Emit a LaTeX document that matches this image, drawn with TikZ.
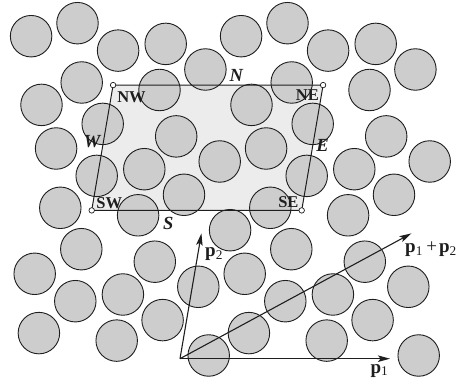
\documentclass[tikz,border=0pt]{standalone}
\usepackage{fontspec}
\setmainfont{Liberation Serif}
\usetikzlibrary{arrows.meta, calc}
\definecolor{grain}{HTML}{CDCDCD}
\definecolor{cellbg}{HTML}{ECECEC}
\definecolor{ink}{HTML}{1E1E1E}

\begin{document}
\begin{tikzpicture}[
  x=1pt, y=1pt,
  >={Stealth[length=12pt, width=6.5pt, inset=2.5pt]},
  % one hard disc of the periodic packing
  disc/.style      = {circle, draw=ink, fill=grain, line width=0.9pt,
                      minimum size=41.5pt, inner sep=0pt},
  celledge/.style  = {draw=ink, line width=1pt},
  vertex/.style    = {circle, draw=ink, fill=white, line width=0.7pt,
                      minimum size=5.5pt, inner sep=0pt},
  cornerlbl/.style = {font=\fontsize{16.5}{19}\selectfont\bfseries, text=ink,
                      inner sep=0pt},
  sidelbl/.style   = {font=\fontsize{18.5}{21}\selectfont\bfseries\itshape,
                      text=ink, inner sep=0pt},
  vec/.style       = {->, draw=ink, line width=1.1pt},
  veclbl/.style    = {font=\fontsize{19}{22}\selectfont, text=ink, inner sep=0pt},
]
\useasboundingbox (0,0) rectangle (464,385);

% ============================ unit cell spanned by p1 and p2 ================
\coordinate (sw) at (91.7,174.6);
\coordinate (se) at ($(sw)+(210,0)$);
\coordinate (nw) at ($(sw)+(21.4,125.3)$);
\coordinate (ne) at ($(nw)+(210,0)$);
\fill[cellbg] (sw) -- (se) -- (ne) -- (nw) -- cycle;

% ============================ discs: offset in cell / lattice shifts shown ==
\begin{scope}[shift={(sw)}]
\foreach \bx/\by/\shifts [count=\k] in {
    128.0/48.9/{-1/1,0/1,0/0,1/0,0/-1,1/-1},
    174.4/61.9/{-1/1,0/1,-1/0,0/0,-1/-1,0/-1},
    5.0/34.5/{0/1,1/1,0/0,1/0,0/-1,1/-1},
    52.6/41.2/{0/1,1/1,0/0,1/0,0/-1,1/-1},
    92.3/15.6/{0/1,1/1,0/0,1/0,0/-1,1/-1},
    178.6/2.6/{-1/1,0/1,-1/0,0/0,-1/-1,0/-1},
    46.4/-4.9/{0/1,1/1,0/0,1/0,0/-1,1/-1},
    159.8/105.5/{-1/0,0/0,0/-1,0/-2,1/-2},
    11.0/86.5/{0/0,1/0,0/-1,1/-1},
    84.5/74.0/{0/0,1/0,0/-1,1/-1}}
  \foreach \i/\j [count=\m] in \shifts
    \node[disc] (d\k-\m) at ({\bx+\i*210+\j*21.4}, {\by+\j*125.3}) {};
\end{scope}

% ============================ cell outline and its labels ===================
\draw[celledge] (sw) -- (se) -- (ne) -- (nw) -- cycle;
\node[vertex] (vsw) at (sw) {};
\node[vertex] (vse) at (se) {};
\node[vertex] (vnw) at (nw) {};
\node[vertex] (vne) at (ne) {};

\node[cornerlbl, anchor=north west] (lnw) at ($(nw)+(4,-6)$)   {NW};
\node[cornerlbl, anchor=north east] (lne) at ($(ne)+(-4,-4.5)$) {NE};
\node[cornerlbl, anchor=south west] (lsw) at ($(sw)+(4.5,1.5)$) {SW};
\node[cornerlbl, anchor=south east] (lse) at ($(se)+(-3,3)$)   {SE};

\node[sidelbl, anchor=south] (ln) at ($(nw)!0.587!(ne)+(0,3)$)    {N};
\node[sidelbl, anchor=north] (ls) at ($(sw)!0.365!(se)+(0,-6.5)$) {S};
\node[sidelbl, anchor=east]  (lw) at ($(sw)!0.55!(nw)+(-3,0)$)    {W};
\node[sidelbl, anchor=west]  (le) at ($(se)!0.515!(ne)+(3.5,0)$)  {E};

% ============================ lattice vectors ===============================
\coordinate (o)   at (180,26.3);
\coordinate (t1)  at ($(o)+(210,0)$);
\coordinate (t2)  at ($(o)+(21.4,125.3)$);
\coordinate (t12) at ($(t1)+(21.4,125.3)$);
\draw[vec] (o) -- (t1);
\draw[vec] (o) -- (t2);
\draw[vec] (o) -- (t12);

\node[veclbl, anchor=north east] (lp1) at ($(t1)+(-1.5,-5.3)$)
     {\textbf{p}\textsubscript{1}};
\node[veclbl, anchor=north west] (lp2) at ($(t2)+(3.6,-13.7)$)
     {\textbf{p}\textsubscript{2}};
\node[veclbl, anchor=north west] (lp12) at ($(t12)+(-6.4,-8.3)$)
     {\textbf{p}\textsubscript{1}\hspace{3.5pt}+\hspace{2pt}\textbf{p}\textsubscript{2}};

\end{tikzpicture}
\end{document}
